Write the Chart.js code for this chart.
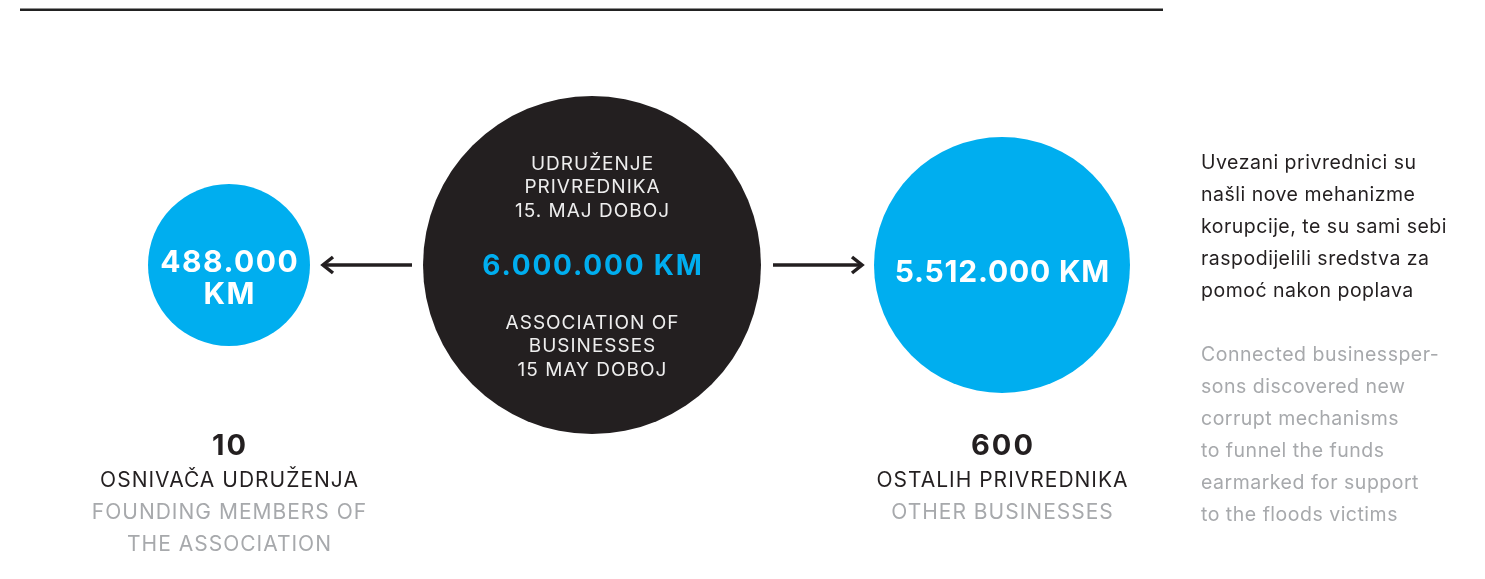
<!DOCTYPE html>
<html>
<head>
<meta charset="utf-8">
<script src="https://cdn.jsdelivr.net/npm/chart.js@4.4.0/dist/chart.umd.min.js"></script>
<style>
  html, body { margin: 0; padding: 0; background: #ffffff; }
  #wrap { width: 1485px; height: 579px; }
</style>
</head>
<body>
<div id="wrap"><canvas id="flows" width="1485" height="579"></canvas></div>
<script>
// --- data ---
const categories = ['Osnivači udruženja', 'Udruženje privrednika 15. maj Doboj', 'Ostali privrednici'];
const amountsKM = [488000, 6000000, 5512000];
const memberCounts = [10, null, 600];
const labelsLocal = [['OSNIVAČA UDRUŽENJA'], ['UDRUŽENJE', 'PRIVREDNIKA', '15. MAJ DOBOJ'], ['OSTALIH PRIVREDNIKA']];
const labelsEnglish = [['FOUNDING MEMBERS OF', 'THE ASSOCIATION'], ['ASSOCIATION OF', 'BUSINESSES', '15 MAY DOBOJ'], ['OTHER BUSINESSES']];
const noteLocal = ['Uvezani privrednici su', 'našli nove mehanizme', 'korupcije, te su sami sebi', 'raspodijelili sredstva za', 'pomoć nakon poplava'];
const noteEnglish = ['Connected businessper-', 'sons discovered new', 'corrupt mechanisms', 'to funnel the funds', 'earmarked for support', 'to the floods victims'];

// --- style / layout ---
const BLUE = '#00aeef';
const INK = '#231f20';
const GREY = '#a7a9ac';
const FONT = 'Inter, "Open Sans", sans-serif';
const bubbleRadius = [81, 169, 128];
const bubbleColor = [BLUE, INK, BLUE];
const firstCenter = 229;
const bubbleGap = 113;
const rowY = 265;

// centres follow from the radii and the equal gap between circles
const centres = [];
bubbleRadius.forEach((r, i) => {
  if (i === 0) centres.push(firstCenter);
  else centres.push(centres[i - 1] + bubbleRadius[i - 1] + bubbleGap + r);
});

const fmt = n => n.toString().replace(/\B(?=(\d{3})+(?!\d))/g, '.');

function arrow(ctx, x1, x2, y) {
  // shaft from x1 to x2, head at x2
  const dir = Math.sign(x2 - x1);
  ctx.save();
  ctx.strokeStyle = INK;
  ctx.lineWidth = 3.5;
  ctx.lineCap = 'butt';
  ctx.beginPath();
  ctx.moveTo(x1, y);
  ctx.lineTo(x2 - dir * 2, y);
  ctx.stroke();
  ctx.lineJoin = 'miter';
  ctx.beginPath();
  ctx.moveTo(x2 - dir * 11, y - 8);
  ctx.lineTo(x2 - dir * 1, y);
  ctx.lineTo(x2 - dir * 11, y + 8);
  ctx.stroke();
  ctx.restore();
}

function text(ctx, t, x, y, spacing) {
  ctx.letterSpacing = (spacing || 0) + 'px';
  // letter spacing adds a trailing gap; shift so the text stays centred
  const shift = ctx.textAlign === 'center' ? (spacing || 0) / 2 : 0;
  ctx.fillText(t, x + shift, y);
}

const decorPlugin = {
  id: 'decor',
  afterDatasetsDraw(chart) {
    const ctx = chart.ctx;
    const pts = chart.getDatasetMeta(0).data;
    ctx.save();
    ctx.textAlign = 'center';
    ctx.textBaseline = 'middle';

    // top rule
    ctx.fillStyle = '#222';
    ctx.fillRect(20, 8.5, 1143, 2.5);

    // arrows: from the middle circle out to the others
    const gapL0 = pts[0].x + bubbleRadius[0];
    const gapL1 = pts[1].x - bubbleRadius[1];
    arrow(ctx, gapL1 - 11, gapL0 + 12, pts[1].y);
    const gapR0 = pts[1].x + bubbleRadius[1];
    const gapR1 = pts[2].x - bubbleRadius[2];
    arrow(ctx, gapR0 + 12, gapR1 - 11, pts[1].y);

    // amounts inside circles
    const p0 = pts[0], p1 = pts[1], p2 = pts[2];
    ctx.fillStyle = '#ffffff';
    ctx.font = 'bold 30px ' + FONT;
    text(ctx, fmt(amountsKM[0]), p0.x, p0.y - 2, 1.5);
    text(ctx, 'KM', p0.x, p0.y + 30, 1.5);
    text(ctx, fmt(amountsKM[2]) + ' KM', p2.x, p2.y + 8, 0.8);

    ctx.fillStyle = BLUE;
    ctx.font = 'bold 28px ' + FONT;
    text(ctx, fmt(amountsKM[1]) + ' KM', p1.x, p1.y + 2, 1.8);

    ctx.fillStyle = '#eeeeee';
    ctx.font = '19px ' + FONT;
    labelsLocal[1].forEach((t, k) => text(ctx, t, p1.x, p1.y - 101 + k * 23.5, 1));
    labelsEnglish[1].forEach((t, k) => text(ctx, t, p1.x, p1.y + 58 + k * 23.5, 1));

    // captions under the outer circles
    [0, 2].forEach(i => {
      const x = pts[i].x;
      ctx.fillStyle = INK;
      ctx.font = 'bold 29px ' + FONT;
      text(ctx, String(memberCounts[i]), x, 446, 2);
      ctx.font = '21px ' + FONT;
      labelsLocal[i].forEach((t, k) => text(ctx, t, x, 481 + k * 32, 1));
      ctx.fillStyle = GREY;
      labelsEnglish[i].forEach((t, k) => text(ctx, t, x, 481 + (labelsLocal[i].length + k) * 32, 1));
    });

    // side note
    ctx.textAlign = 'left';
    ctx.textBaseline = 'alphabetic';
    ctx.font = '19.5px ' + FONT;
    ctx.fillStyle = INK;
    noteLocal.forEach((t, k) => text(ctx, t, 1201, 169 + k * 32, 0.5));
    ctx.fillStyle = GREY;
    noteEnglish.forEach((t, k) => text(ctx, t, 1201, 361 + k * 32, 0.5));
    ctx.restore();
  }
};

new Chart(document.getElementById('flows'), {
  type: 'bubble',
  data: {
    labels: categories,
    datasets: [{
      label: 'KM',
      data: amountsKM.map((v, i) => ({ x: centres[i], y: rowY, r: bubbleRadius[i], v: v })),
      backgroundColor: bubbleColor,
      borderWidth: 0,
      hoverBorderWidth: 0,
      clip: false
    }]
  },
  options: {
    responsive: false,
    devicePixelRatio: 1,
    animation: false,
    layout: { padding: 0, autoPadding: false },
    plugins: { legend: { display: false }, tooltip: { enabled: false } },
    scales: {
      x: { type: 'linear', display: false, min: 0, max: 1485 },
      y: { type: 'linear', display: false, min: 0, max: 579, reverse: true }
    }
  },
  plugins: [decorPlugin]
});
</script>
</body>
</html>
